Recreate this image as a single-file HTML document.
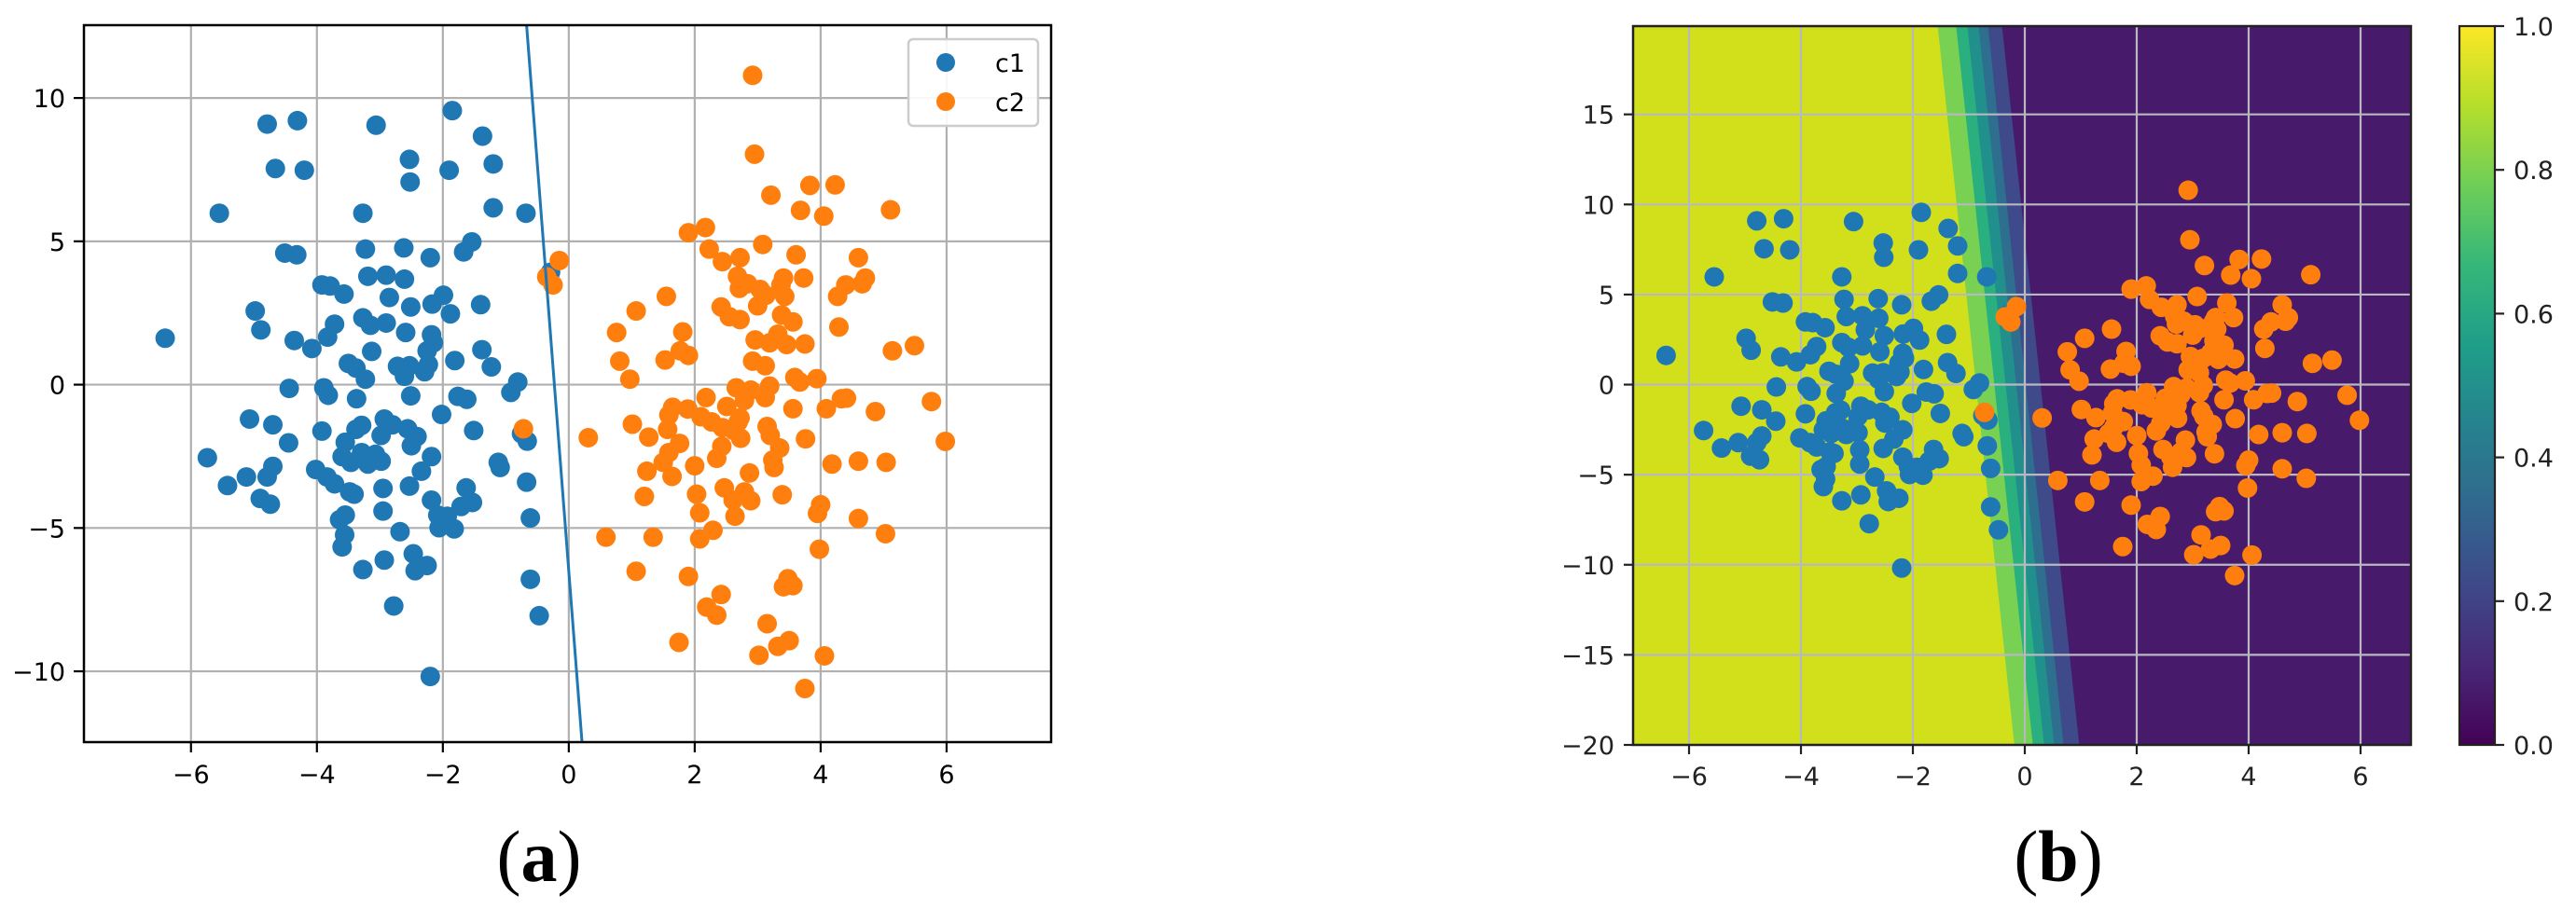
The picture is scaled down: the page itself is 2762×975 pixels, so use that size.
<!DOCTYPE html>
<html><head><meta charset="utf-8">
<style>
html,body{margin:0;padding:0;background:#fff;}
svg{display:block;}
text{font-family:"DejaVu Sans","Liberation Sans",sans-serif;}
</style></head>
<body>
<svg id="fig" width="2762" height="975" viewBox="0 0 2762 975" xmlns="http://www.w3.org/2000/svg">
  <g id="chartA"></g>
  <g id="chartB"></g>
  <text x="578" y="945" text-anchor="middle" font-size="78" style="font-family:'Liberation Serif',serif">(<tspan font-weight="bold">a</tspan>)</text>
  <text x="2207" y="945" text-anchor="middle" font-size="78" style="font-family:'Liberation Serif',serif">(<tspan font-weight="bold">b</tspan>)</text>
</svg>
<script>
const c1x=[-4.79,-4.31,-3.06,-1.85,-1.37,-4.66,-4.20,-2.53,-2.52,-1.90,-1.20,-5.55,-3.27,-1.20,-0.68,-4.51,-4.32,-3.23,-2.62,-2.20,-1.67,-1.54,-3.19,-2.90,-2.61,-3.92,-3.79,-3.57,-2.85,-1.99,-2.51,-2.17,-1.40,-1.88,-4.98,-4.89,-3.27,-3.15,-2.90,-3.72,-6.41,-4.36,-3.83,-2.59,-2.18,-2.15,-4.08,-3.13,-2.25,-1.38,-1.81,-3.50,-3.38,-3.23,-2.72,-2.53,-2.23,-2.29,-2.61,-1.23,-0.81,-0.92,-4.44,-3.89,-3.82,-2.51,-3.37,-1.76,-1.62,-5.07,-4.70,-2.93,-2.80,-2.02,-3.29,-3.38,-3.92,-2.56,-2.41,-1.51,-2.98,-0.75,-0.66,-4.45,-3.55,-2.50,-5.74,-3.60,-3.29,-3.07,-3.46,-3.19,-2.98,-2.18,-1.12,-1.09,-4.70,-5.12,-4.79,-4.02,-5.42,-3.84,-3.72,-2.34,-3.48,-3.41,-2.95,-2.53,-1.63,-0.67,-4.90,-4.74,-2.18,-1.71,-1.53,-2.95,-3.55,-3.64,-2.08,-1.93,-0.61,-2.06,-1.82,-2.68,-3.56,-3.60,-2.47,-2.44,-2.93,-2.25,-3.27,-0.61,-2.78,-0.47,-2.20,-0.29];
const c1y=[9.09,9.21,9.05,9.56,8.67,7.54,7.48,7.86,7.07,7.48,7.70,5.98,5.98,6.17,5.98,4.59,4.53,4.73,4.77,4.43,4.63,4.98,3.78,3.82,3.68,3.48,3.44,3.16,3.04,3.12,2.71,2.81,2.79,2.47,2.57,1.91,2.33,2.07,2.15,2.11,1.62,1.54,1.66,1.82,1.74,1.46,1.26,1.16,1.18,1.22,0.84,0.74,0.58,0.19,0.64,0.66,0.70,0.45,0.29,0.62,0.09,-0.27,-0.13,-0.11,-0.37,-0.39,-0.49,-0.41,-0.51,-1.20,-1.40,-1.20,-1.40,-1.04,-1.42,-1.56,-1.62,-1.54,-1.81,-1.60,-1.77,-1.71,-1.97,-2.03,-2.01,-2.13,-2.55,-2.51,-2.37,-2.43,-2.71,-2.77,-2.67,-2.51,-2.71,-2.89,-2.85,-3.22,-3.22,-2.96,-3.52,-3.22,-3.46,-3.02,-3.74,-3.82,-3.62,-3.54,-3.60,-3.40,-3.97,-4.17,-4.03,-4.25,-4.11,-4.41,-4.55,-4.71,-4.55,-4.59,-4.65,-4.99,-5.03,-5.13,-5.24,-5.66,-5.90,-6.49,-6.12,-6.31,-6.45,-6.79,-7.72,-8.06,-10.18,3.92];
const c2x=[2.92,2.95,3.21,3.83,4.23,3.68,4.05,5.11,1.90,2.17,2.23,3.08,2.44,2.72,3.61,4.60,-0.15,-0.35,-0.25,2.68,2.84,3.41,3.73,3.37,4.40,4.71,4.66,2.71,3.04,3.13,3.00,3.43,4.27,1.55,1.07,2.42,2.55,2.72,3.38,3.56,4.29,0.76,1.81,2.96,3.19,3.32,3.46,3.75,1.77,1.90,1.53,5.14,5.49,0.81,2.92,3.12,0.97,3.59,3.67,3.94,2.66,2.89,3.19,3.12,2.18,2.79,4.33,4.41,5.76,1.65,1.89,2.51,4.09,4.87,3.56,1.59,2.10,2.72,1.01,2.27,2.44,2.69,3.15,1.57,2.62,3.20,-0.72,0.31,1.27,2.73,1.76,3.76,2.43,3.35,1.59,2.35,3.24,4.60,5.04,1.50,2.00,3.26,4.18,1.24,1.64,2.87,2.47,2.79,3.39,2.03,1.20,2.61,2.89,4.00,2.08,2.64,3.95,4.60,0.59,1.34,2.08,2.29,5.03,3.98,1.07,1.90,2.42,3.48,3.56,3.41,2.19,2.35,3.15,1.75,3.02,3.32,3.50,4.06,3.75,5.98];
const c2y=[10.79,8.04,6.61,6.95,6.97,6.08,5.88,6.10,5.30,5.48,4.73,4.89,4.29,4.43,4.53,4.43,4.33,3.76,3.48,3.78,3.52,3.72,3.72,3.48,3.48,3.72,3.52,3.36,3.32,3.12,2.75,3.08,3.08,3.08,2.57,2.71,2.37,2.27,2.43,2.19,2.01,1.82,1.84,1.56,1.46,1.76,1.40,1.42,1.18,1.02,0.86,1.18,1.36,0.82,0.82,0.66,0.19,0.25,0.09,0.21,-0.11,-0.19,-0.05,-0.45,-0.45,-0.55,-0.49,-0.47,-0.59,-0.79,-0.85,-0.76,-0.84,-0.94,-0.84,-1.06,-1.12,-1.16,-1.38,-1.30,-1.50,-1.30,-1.46,-1.56,-1.60,-1.77,-1.54,-1.85,-1.83,-1.87,-2.05,-1.89,-2.15,-2.21,-2.37,-2.57,-2.63,-2.67,-2.71,-2.71,-2.83,-2.89,-2.77,-3.02,-3.20,-3.08,-3.60,-3.74,-3.84,-3.82,-3.90,-4.03,-4.05,-4.19,-4.47,-4.59,-4.49,-4.67,-5.32,-5.32,-5.38,-5.08,-5.20,-5.74,-6.51,-6.69,-7.32,-6.77,-7.01,-7.05,-7.76,-8.04,-8.34,-8.99,-9.44,-9.13,-8.93,-9.46,-10.60,-1.98];
const xTicksA=[-6,-4,-2,0,2,4,6];
const yTicksA=[-10,-5,0,5,10];
const lineA_x=[-0.67,0.21];
const lineA_y=[12.54,-12.47];
const xTicksB=[-6,-4,-2,0,2,4,6];
const yTicksB=[-20,-15,-10,-5,0,5,10,15];
const bandTopX=[-1.55,-1.22,-1.02,-0.82,-0.65,-0.40];
const bandBotX=[-0.18,0.15,0.35,0.53,0.70,0.98];
const bandColors=["#d2e01b","#78d152","#2ab07f","#21908d","#2e6e8e","#3e4a89","#481a6c"];
const cbTicks=[0.0,0.2,0.4,0.6,0.8,1.0];

const NS="http://www.w3.org/2000/svg";
function mk(parent,tag,attrs,txt){const e=document.createElementNS(NS,tag);for(const k in attrs)e.setAttribute(k,attrs[k]);if(txt!==undefined)e.textContent=txt;parent.appendChild(e);return e;}
function fmt(v){return (v<0?"\u2212":"")+Math.abs(v);}
const PR=10.5;

(function(){
const g=document.getElementById('chartA');
const L=90,R=1127,T=27,B=796,xmin=-7.70,xmax=7.66,ymin=-12.47,ymax=12.54;
const X=v=>L+(v-xmin)/(xmax-xmin)*(R-L);
const Y=v=>B-(v-ymin)/(ymax-ymin)*(B-T);
mk(g,'rect',{x:L,y:T,width:R-L,height:B-T,fill:'#fff'});
xTicksA.forEach(t=>{
 const gl=mk(g,'line',{x1:X(t),x2:X(t),y1:T,y2:B,stroke:'#b0b0b0','stroke-width':2.2});
 
 const tk=mk(g,'line',{x1:X(t),x2:X(t),y1:B,y2:B+11,stroke:'#000','stroke-width':2.2});
 
 const tl=mk(g,'text',{x:X(t),y:B+44,'text-anchor':'middle','font-size':27,fill:'#000'},fmt(t));
 
});
yTicksA.forEach(t=>{
 const gl=mk(g,'line',{x1:L,x2:R,y1:Y(t),y2:Y(t),stroke:'#b0b0b0','stroke-width':2.2});
 
 const tk=mk(g,'line',{x1:L-11,x2:L,y1:Y(t),y2:Y(t),stroke:'#000','stroke-width':2.2});
 
 const tl=mk(g,'text',{x:L-20,y:Y(t)+10,'text-anchor':'end','font-size':27,fill:'#000'},fmt(t));
 
});
c1x.forEach((v,i)=>{const c=mk(g,'circle',{cx:X(v),cy:Y(c1y[i]),r:PR,fill:'#1f77b4'});
 });
c2x.forEach((v,i)=>{const c=mk(g,'circle',{cx:X(v),cy:Y(c2y[i]),r:PR,fill:'#ff7f0e'});
 });
const ln=mk(g,'line',{x1:X(lineA_x[0]),y1:Y(lineA_y[0]),x2:X(lineA_x[1]),y2:Y(lineA_y[1]),stroke:'#1f77b4','stroke-width':3});

const fr=mk(g,'rect',{x:L,y:T,width:R-L,height:B-T,fill:'none',stroke:'#000','stroke-width':2.5});

const lg=mk(g,'g',{});

mk(lg,'rect',{x:974,y:42,width:139,height:93,rx:5,fill:'#fff','fill-opacity':0.9,stroke:'#cccccc','stroke-width':2.5});
const e1=mk(lg,'circle',{cx:1014,cy:67,r:10,fill:'#1f77b4'});

const t1=mk(lg,'text',{x:1067,y:77,'font-size':27,fill:'#000'},'c1');

const e2=mk(lg,'circle',{cx:1014,cy:109,r:10,fill:'#ff7f0e'});

const t2=mk(lg,'text',{x:1067,y:119,'font-size':27,fill:'#000'},'c2');

})();

(function(){
const g=document.getElementById('chartB');
const L=1751,R=2585,T=28,B=799,xmin=-7.0,xmax=6.9,ymin=-20,ymax=19.9;
const X=v=>L+(v-xmin)/(xmax-xmin)*(R-L);
const Y=v=>B-(v-ymin)/(ymax-ymin)*(B-T);
const tops=[xmin].concat(bandTopX,[xmax]);
const bots=[xmin].concat(bandBotX,[xmax]);
for(let i=0;i<bandColors.length;i++){
 const p=[[X(tops[i]),T],[X(tops[i+1]),T],[X(bots[i+1]),B],[X(bots[i]),B]];
 const pg=mk(g,'polygon',{points:p.map(q=>q.join(',')).join(' '),fill:bandColors[i],stroke:bandColors[i],'stroke-width':0.8});
 
}
xTicksB.forEach(t=>{
 const gl=mk(g,'line',{x1:X(t),x2:X(t),y1:T,y2:B,stroke:'#b8b8c0','stroke-width':2.2});
 
 const tk=mk(g,'line',{x1:X(t),x2:X(t),y1:B,y2:B+10,stroke:'#222','stroke-width':2.2});
 
 const tl=mk(g,'text',{x:X(t),y:B+43,'text-anchor':'middle','font-size':27,fill:'#222'},fmt(t));
 
});
yTicksB.forEach(t=>{
 if(t>ymin){const gl=mk(g,'line',{x1:L,x2:R,y1:Y(t),y2:Y(t),stroke:'#b8b8c0','stroke-width':2.2});
 }
 const tk=mk(g,'line',{x1:L-10,x2:L,y1:Y(t),y2:Y(t),stroke:'#222','stroke-width':2.2});
 
 const tl=mk(g,'text',{x:L-20,y:Y(t)+10,'text-anchor':'end','font-size':27,fill:'#222'},fmt(t));
 
});
c1x.forEach((v,i)=>{const c=mk(g,'circle',{cx:X(v),cy:Y(c1y[i]),r:PR,fill:'#1f77b4'});
 });
c2x.forEach((v,i)=>{const c=mk(g,'circle',{cx:X(v),cy:Y(c2y[i]),r:PR,fill:'#ff7f0e'});
 });
const fr=mk(g,'rect',{x:L,y:T,width:R-L,height:B-T,fill:'none',stroke:'#222','stroke-width':2.5});

const defs=mk(g,'defs',{});
const lgd=mk(defs,'linearGradient',{id:'vir',x1:0,y1:1,x2:0,y2:0});
const vstops=["#440154","#482878","#3e4989","#31688e","#26828e","#1f9e89","#35b779","#6ece58","#b5de2b","#fde725"];
vstops.forEach((c,i)=>mk(lgd,'stop',{offset:(i/(vstops.length-1)).toFixed(3),'stop-color':c}));
const CL=2637,CR=2675;
const cb=mk(g,'rect',{x:CL,y:T,width:CR-CL,height:B-T,fill:'url(#vir)',stroke:'#222','stroke-width':2.2});

cbTicks.forEach(t=>{
 const yy=B-t*(B-T);
 const tk=mk(g,'line',{x1:CR,x2:CR+10,y1:yy,y2:yy,stroke:'#222','stroke-width':2.2});
 
 const tl=mk(g,'text',{x:CR+20,y:yy+10,'font-size':27,fill:'#222'},t.toFixed(1));
 
});
})();
</script>
</body></html>
